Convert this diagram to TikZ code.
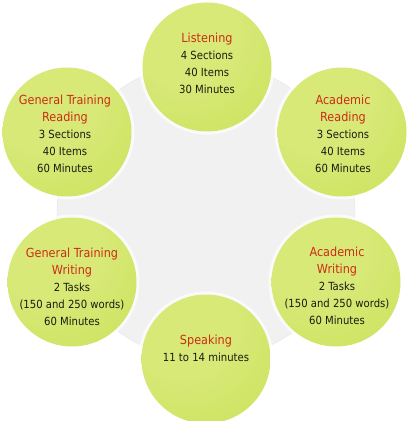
\documentclass[tikz,border=0pt]{standalone}
\usepackage{fontspec}
\setmainfont{DejaVu Sans Condensed}
\definecolor{titlered}{RGB}{204,44,20}
\definecolor{bodytext}{RGB}{26,28,16}
\definecolor{ringgray}{RGB}{241,241,241}
\definecolor{ringedge}{RGB}{228,228,228}
\definecolor{limelight}{RGB}{216,233,120}
\definecolor{limemid}{RGB}{198,223,80}
\definecolor{limedark}{RGB}{176,208,48}
\pgfdeclareradialshading{bubbleshade}{\pgfpoint{-12bp}{18bp}}{color(0bp)=(limelight); color(20bp)=(limelight); color(55bp)=(limemid); color(80bp)=(limedark)}
\newcommand\parttitle[1]{{\color{titlered}\fontsize{12.5}{17}\selectfont #1}}

\begin{document}
\begin{tikzpicture}[x=1pt,y=1pt,
  bubble/.style={circle,minimum size=129pt,inner sep=0pt,shading=bubbleshade,
    preaction={draw=white,line width=6pt,opacity=.7}},
  info/.style={align=center,text=bodytext,font=\fontsize{11.2}{17}\selectfont}]
  \useasboundingbox (0,0) rectangle (412,421);
  \fill[white] (0,0) rectangle (412,421);
  \node[circle,minimum size=298pt,fill=ringgray,draw=ringedge] (ring) at (206,210) {};

  \node[bubble] (listen) at (207,354) {};
  \node[bubble] (gtread) at (67,289) {};
  \node[bubble] (acread) at (342,289) {};
  \node[bubble] (gtwrite) at (72,139) {};
  \node[bubble] (acwrite) at (336,139) {};
  \node[bubble] (speak) at (206,62) {};

  \node[info] (listentext) at ([yshift=4pt]listen.center) {\parttitle{Listening}\\4 Sections\\40 Items\\30 Minutes};
  \node[info] (gtreadtext) at ([xshift=-2pt,yshift=-2pt]gtread.center) {\parttitle{General Training}\\\parttitle{Reading}\\3 Sections\\40 Items\\60 Minutes};
  \node[info] (acreadtext) at ([xshift=1pt,yshift=-2pt]acread.center) {\parttitle{Academic}\\\parttitle{Reading}\\3 Sections\\40 Items\\60 Minutes};
  \node[info] (gtwritetext) at ([yshift=-5pt]gtwrite.center) {\parttitle{General Training}\\\parttitle{Writing}\\2 Tasks\\(150 and 250 words)\\60 Minutes};
  \node[info] (acwritetext) at ([xshift=1pt,yshift=-4pt]acwrite.center) {\parttitle{Academic}\\\parttitle{Writing}\\2 Tasks\\(150 and 250 words)\\60 Minutes};
  \node[info] (speaktext) at ([yshift=11pt]speak.center) {\parttitle{Speaking}\\11 to 14 minutes};
\end{tikzpicture}
\end{document}
